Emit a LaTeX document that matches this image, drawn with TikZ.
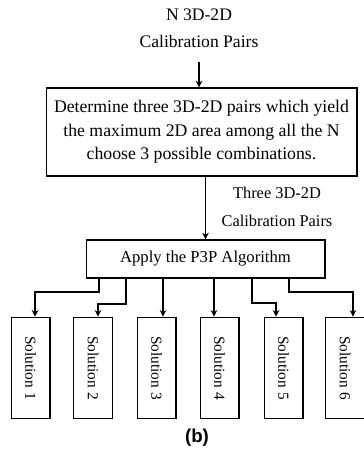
\documentclass[tikz,border=0pt]{standalone}
\usepackage{fontspec}
\setmainfont{Liberation Serif}
\setsansfont{Liberation Sans}
\usetikzlibrary{arrows.meta}
\usetikzlibrary{positioning}
\tikzset{
  box/.style={draw,line width=1pt,align=center,inner sep=2pt},
  solbox/.style={box,rotate=-90,minimum width=76pt,minimum height=29pt},
  link/.style={line width=1pt,-{Stealth[length=5pt,width=5pt]}}
}
\begin{document}
\begin{tikzpicture}[x=0.75pt,y=-0.75pt,font=\fontsize{11.5}{20}\selectfont]
\useasboundingbox (0,0) rectangle (364,451);
\node[align=center,font=\fontsize{13.2}{20}\selectfont] (In) at (199,28) {N 3D-2D\\Calibration Pairs};
\node[box,minimum width=233pt,minimum height=66pt,font=\fontsize{13.3}{17.6}\selectfont]
  (Sel) at (201.5,132) {Determine three 3D-2D pairs which yield\\the maximum 2D area among all the N\\choose 3 possible combinations.};
\node[align=center,font=\fontsize{12.3}{21}\selectfont] (Mid) at (277,207) {Three 3D-2D\\Calibration Pairs};
\node[box,minimum width=179pt,minimum height=28.5pt,font=\fontsize{12.5}{15}\selectfont] (P3P) at (205.5,259) {Apply the P3P Algorithm};
\node[solbox] (S1) at (30.5,368) {Solution 1};
\node[solbox] (S2) at (93,368) {Solution 2};
\node[solbox] (S3) at (156.5,368) {Solution 3};
\node[solbox] (S4) at (219.5,368) {Solution 4};
\node[solbox] (S5) at (283.5,368) {Solution 5};
\node[solbox] (S6) at (345,368) {Solution 6};
\node[font=\sffamily\bfseries\fontsize{14}{16}\selectfont] (Cap) at (197,438) {(b)};
% bends of the connectors
\coordinate (b1) at (99,292);
\coordinate (b2) at (126,304);
\coordinate (b3) at (163,300);
\coordinate (b4) at (214,300);
\coordinate (b5) at (252,303);
\coordinate (b6) at (289,292);
\draw[link] (In.south |- 0,62) -- (In.south |- Sel.north);
\draw[link] (Sel.south -| P3P.north) -- (P3P.north);
\draw[link] (P3P.south -| b1) -- (b1) -| ([xshift=3.4pt]S1.west);
\draw[link] (P3P.south -| b2) -- (b2) -| ([xshift=3.75pt]S2.west);
\draw[link] (P3P.south -| b3) -- (S3.west -| b3);
\draw[link] (P3P.south -| b4) -- (S4.west -| b4);
\draw[link] (P3P.south -| b5) -- (b5) -| ([xshift=-5.6pt]S5.west);
\draw[link] (P3P.south -| b6) -- (b6) -| ([xshift=6pt]S6.west);
\end{tikzpicture}
\end{document}
